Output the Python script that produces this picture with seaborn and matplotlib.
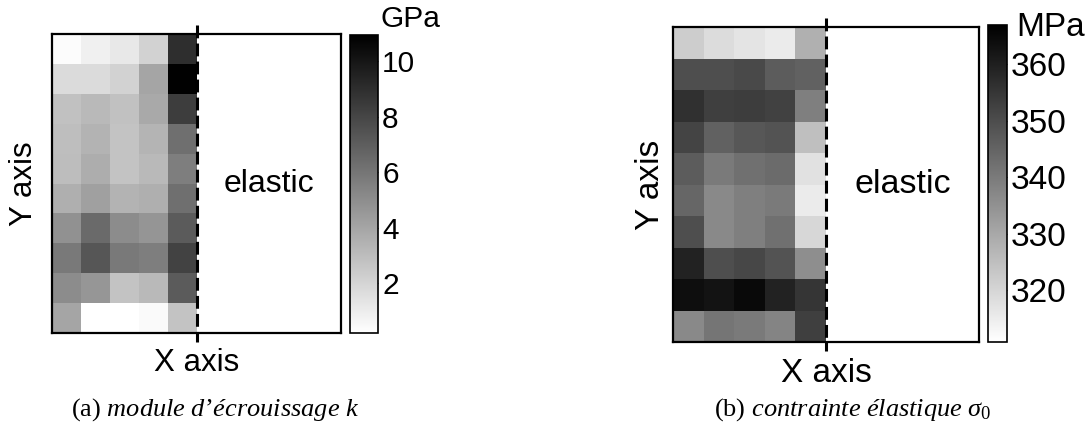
import numpy as np
import pandas as pd
import matplotlib
matplotlib.use('Agg')
import matplotlib.pyplot as plt
import seaborn as sns

sns.set_style('white')
plt.rcParams['font.family'] = ['Liberation Sans', 'DejaVu Sans']
plt.rcParams['text.color'] = 'black'
plt.rcParams['axes.labelcolor'] = 'black'
plt.rcParams['xtick.color'] = 'black'
plt.rcParams['ytick.color'] = 'black'
plt.rcParams['mathtext.fontset'] = 'custom'
plt.rcParams['mathtext.rm'] = 'Liberation Serif'
plt.rcParams['mathtext.it'] = 'Liberation Serif:italic'

# (a) hardening modulus k, GPa  (10 rows top->bottom, 5 columns)
k_gpa = [
    [0.33, 0.83, 1.17, 2.09, 9.01],
    [1.75, 1.75, 2.09, 3.98, 10.9],
    [2.84, 3.14, 2.84, 3.85, 8.38],
    [2.93, 3.43, 2.72, 3.35, 6.28],
    [3.01, 3.68, 2.72, 3.14, 5.65],
    [3.56, 4.19, 3.43, 3.56, 6.28],
    [4.82, 6.49, 5.03, 4.69, 7.12],
    [5.86, 7.33, 5.86, 5.65, 8.17],
    [5.03, 4.61, 2.72, 3.14, 7.12],
    [3.98, 0.20, 0.20, 0.41, 2.72],
]
k_ticks = [2, 4, 6, 8, 10]
k_range = (0.2, 10.95)

# (b) yield stress sigma_0, MPa
s0_mpa = [
    [321.8, 318.5, 316.8, 315.3, 328.3],
    [349.8, 349.8, 350.9, 346.6, 345.5],
    [356.3, 353.1, 353.5, 352.6, 339.0],
    [352.0, 345.5, 347.7, 348.7, 325.0],
    [346.6, 340.1, 342.3, 343.4, 317.5],
    [344.4, 336.9, 339.0, 340.1, 315.3],
    [349.8, 336.9, 339.0, 342.3, 319.6],
    [359.5, 349.8, 351.3, 348.7, 335.8],
    [363.8, 362.8, 364.9, 359.5, 355.2],
    [336.9, 341.2, 340.1, 338.0, 353.1],
]
s0_ticks = [320, 330, 340, 350, 360]
s0_range = (310.8, 367.0)

W, H = 1091, 425


def px_box(x0, y0, x1, y1):
    # pixel box (top-left origin) -> figure fraction rect
    return [x0 / W, 1 - y1 / H, (x1 - x0) / W, (y1 - y0) / H]


def draw_panel(fig, data, vrange, ticks, unit, ax_box, cb_box, unit_xy,
               caption, cap_x, ylab_x, fs):
    ax = fig.add_axes(px_box(*ax_box))
    cax = fig.add_axes(px_box(*cb_box))
    df = pd.DataFrame(data)
    sns.heatmap(df, ax=ax, cbar_ax=cax, cmap='gray_r', vmin=vrange[0], vmax=vrange[1],
                xticklabels=False, yticklabels=False)
    ax.set_xlim(0, 10)
    ax.set_ylim(10, 0)
    ax.set_facecolor('white')
    for s in ax.spines.values():
        s.set_visible(True)
        s.set_color('black')
        s.set_linewidth(1.6)
    ax.tick_params(left=False, bottom=False)

    # boundary between plastic zone and elastic zone
    ax.plot([5, 5], [-0.3, 10.3], color='black', lw=2.2,
            linestyle=(0, (4.2, 1.7)), clip_on=False, zorder=10)
    ax.text(7.5, 5, 'elastic', ha='center', va='center', fontsize=fs['elastic'])

    ax.set_xlabel('X axis', fontsize=fs['label'], va='center')
    ax.xaxis.set_label_coords(0.5, -0.1)
    ax.set_ylabel('Y axis', fontsize=fs['label'], va='center')
    ax.yaxis.set_label_coords(ylab_x, 0.5)

    cb = ax.collections[0].colorbar
    cb.outline.set_linewidth(1.2)
    cb.outline.set_edgecolor('black')
    cb.set_ticks(ticks)
    cax.tick_params(direction='in', length=3, width=0.8, color='#333333',
                    left=True, right=True, labelsize=fs['tick'], pad=3)
    fig.text(unit_xy[0] / W, 1 - unit_xy[1] / H, unit, fontsize=fs['unit'],
             ha='left', va='center')

    # figure caption: "(x)" upright, the rest italic (LaTeX style)
    fig.text(cap_x / W, 1 - 416 / H, caption, ha='center', va='baseline',
             fontsize=19, family='Liberation Serif')


fig = plt.figure(figsize=(W / 100, H / 100), dpi=100)

draw_panel(fig, k_gpa, k_range, k_ticks, 'GPa',
           (52, 34, 341, 333), (350, 35, 378, 333), (380, 19),
           '(a) $module\\ d\u2019\u00e9crouissage\\ k$', 215, -0.097,
           {'elastic': 23, 'label': 22.5, 'tick': 21.5, 'unit': 21.5})
draw_panel(fig, s0_mpa, s0_range, s0_ticks, 'MPa',
           (673, 27, 979, 342), (988, 25, 1007, 342), (1016, 28),
           '(b) $contrainte\\ \u00e9lastique\\ \\sigma_0$', 853, -0.075,
           {'elastic': 24.5, 'label': 24, 'tick': 24, 'unit': 24})

fig.savefig('out.png', dpi=100)
